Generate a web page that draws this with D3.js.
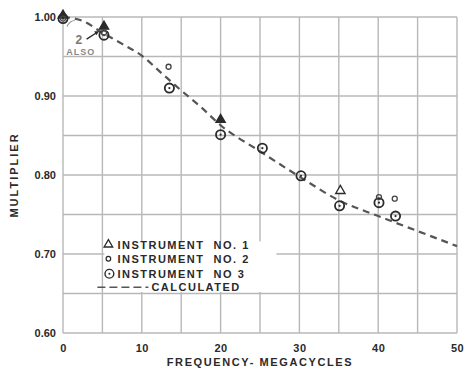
<!DOCTYPE html>
<html><head><meta charset="utf-8">
<script src="https://cdn.jsdelivr.net/npm/d3@7/dist/d3.min.js"></script>
<style>
body{margin:0;background:#fff;}
svg{display:block;font-family:"Liberation Sans",Arial,sans-serif;}
</style></head>
<body><div id="chart"></div>
<script>
// ---- data ----
const xTicks = [0,10,20,30,40,50];
const yTicks = [1.00,0.90,0.80,0.70,0.60];
const yTickLabels = ["1.00","0.90","0.80","0.70","0.60"];
const calcFreq = [0,2.5,5,7.5,10,12.5,15,17.5,20,25,30,35,40,45,50];
const calcMult = [1.0,0.995,0.98,0.966,0.951,0.929,0.907,0.886,0.863,0.830,0.798,0.768,0.748,0.729,0.710];
const inst1Freq = [0,5.2,20,35.2];
const inst1Mult = [1.002,0.988,0.870,0.780];
const inst2Freq = [0,5.2,13.4,40.1,42.1];
const inst2Mult = [0.998,0.980,0.937,0.772,0.770];
const inst3Freq = [0,5.2,13.5,20,25.3,30.2,35.1,40.1,42.2];
const inst3Mult = [0.998,0.977,0.910,0.851,0.834,0.799,0.761,0.765,0.748];
const legendLabels = ["INSTRUMENT  NO. 1","INSTRUMENT  NO. 2","INSTRUMENT  NO 3","CALCULATED"];

const W=467,H=370;
const svg=d3.select("#chart").append("svg").attr("width",W).attr("height",H);
const x=d3.scaleLinear().domain([0,50]).range([63,457]);
const y=d3.scaleLinear().domain([0.60,1.00]).range([333,17]);
const ink="#2a2a2a", grid="#b8b8b8";

// grid
const g=svg.append("g");
g.selectAll(".vx").data(d3.range(0,51,5)).join("line")
 .attr("x1",d=>x(d)).attr("x2",d=>x(d)).attr("y1",y(1.0)).attr("y2",y(0.6))
 .attr("stroke",grid).attr("stroke-width",1.4);
g.selectAll(".hy").data(d3.range(0,9).map(i=>0.60+i*0.05)).join("line")
 .attr("x1",x(0)).attr("x2",x(50)).attr("y1",d=>y(d)).attr("y2",d=>y(d))
 .attr("stroke",grid).attr("stroke-width",1.4);

// axes labels via d3 axis
const xAxis=svg.append("g").attr("transform",`translate(0,${y(0.6)})`)
 .call(d3.axisBottom(x).tickValues(xTicks).tickSize(0).tickPadding(11).tickFormat(d3.format("d")));
xAxis.select(".domain").remove();
xAxis.selectAll("text").attr("font-size",11).attr("fill",ink).attr("font-weight","bold").attr("letter-spacing",0.5);
const yAxis=svg.append("g").attr("transform",`translate(${x(0)},0)`)
 .call(d3.axisLeft(y).tickValues(yTicks).tickSize(0).tickPadding(7).tickFormat((d,i)=>yTickLabels[i]));
yAxis.select(".domain").remove();
yAxis.selectAll("text").attr("font-size",11).attr("fill",ink).attr("font-weight","bold");

svg.append("text").attr("x",(x(0)+x(50))/2).attr("y",366).attr("text-anchor","middle")
 .attr("font-size",11).attr("font-weight","bold").attr("letter-spacing",1.6).attr("fill",ink)
 .text("FREQUENCY- MEGACYCLES");
svg.append("text").attr("transform",`translate(18,${(y(1)+y(0.6))/2}) rotate(-90)`).attr("text-anchor","middle")
 .attr("font-size",11).attr("font-weight","bold").attr("letter-spacing",2).attr("fill",ink)
 .text("MULTIPLIER");

// legend background
const lx=x(5)+2, ly=y(0.716);
svg.append("rect").attr("x",lx).attr("y",ly).attr("width",172).attr("height",y(0.65)-ly-1.5).attr("fill","#fff");

// calculated curve
const line=d3.line().x((d,i)=>x(calcFreq[i])).y(d=>y(d)).curve(d3.curveMonotoneX);
svg.append("path").attr("d",line(calcMult)).attr("fill","none").attr("stroke","#555")
 .attr("stroke-width",2.2).attr("stroke-dasharray","7,5");

// markers
const tri=d3.symbol().type(d3.symbolTriangle).size(38);
svg.selectAll(".i1").data(inst1Mult).join("path")
 .attr("transform",(d,i)=>`translate(${x(inst1Freq[i])},${y(d)})`).attr("d",tri)
 .attr("fill",(d,i)=>i<3?ink:"#fff").attr("stroke",ink).attr("stroke-width",1.3);
svg.selectAll(".i3").data(inst3Mult).join("circle")
 .attr("cx",(d,i)=>x(inst3Freq[i])).attr("cy",d=>y(d)).attr("r",4.6)
 .attr("fill","none").attr("stroke",ink).attr("stroke-width",1.8);
svg.selectAll(".i3d").data(inst3Mult).join("circle")
 .attr("cx",(d,i)=>x(inst3Freq[i])).attr("cy",d=>y(d)).attr("r",1.1).attr("fill",ink);
svg.selectAll(".i2").data(inst2Mult).join("circle")
 .attr("cx",(d,i)=>x(inst2Freq[i])).attr("cy",d=>y(d)).attr("r",2.5)
 .attr("fill","none").attr("stroke","#444").attr("stroke-width",1.3);

// "2 ALSO" annotation
svg.append("text").attr("x",x(1.6)).attr("y",y(0.966)).attr("font-size",12).attr("fill","#777").attr("font-weight","bold").text("2");
svg.append("text").attr("x",x(0.4)).attr("y",y(0.952)).attr("font-size",9).attr("fill","#888").attr("font-weight","bold").attr("letter-spacing",1).text("ALSO");
svg.append("path").attr("d",`M${x(0.5)},${y(0.988)} q3,-6 8,-6`).attr("fill","none").attr("stroke","#999").attr("stroke-width",1.2);
svg.append("line").attr("x1",x(3)).attr("y1",y(0.972)).attr("x2",x(4.4)).attr("y2",y(0.981))
 .attr("stroke",ink).attr("stroke-width",1.4);
svg.append("path").attr("d",`M${x(4.6)},${y(0.982)} l-5,0 l2,4 z`).attr("fill",ink);

// legend entries
const rows=[y(0.712)+4,y(0.694)+4,y(0.675)+4,y(0.658)+4];
const tx=lx+13;
svg.append("path").attr("transform",`translate(${lx+4},${rows[0]-4})`).attr("d",d3.symbol().type(d3.symbolTriangle).size(32))
 .attr("fill","none").attr("stroke",ink).attr("stroke-width",1.3);
svg.append("circle").attr("cx",lx+4).attr("cy",rows[1]-4).attr("r",2.3).attr("fill","none").attr("stroke",ink).attr("stroke-width",1.2);
svg.append("circle").attr("cx",lx+5).attr("cy",rows[2]-4).attr("r",4.4).attr("fill","none").attr("stroke",ink).attr("stroke-width",1.4);
svg.append("circle").attr("cx",lx+5).attr("cy",rows[2]-4).attr("r",1).attr("fill",ink);
svg.append("line").attr("x1",lx-7).attr("x2",lx+44).attr("y1",rows[3]-4).attr("y2",rows[3]-4)
 .attr("stroke","#555").attr("stroke-width",1.4).attr("stroke-dasharray","8,4");
svg.selectAll(".lt").data(legendLabels).join("text")
 .attr("x",(d,i)=>i<3?tx:lx+47).attr("y",(d,i)=>rows[i]).attr("font-size",11).attr("font-weight","bold")
 .attr("letter-spacing",1.5).attr("fill",ink).style("white-space","pre").text(d=>d);
</script></body></html>
